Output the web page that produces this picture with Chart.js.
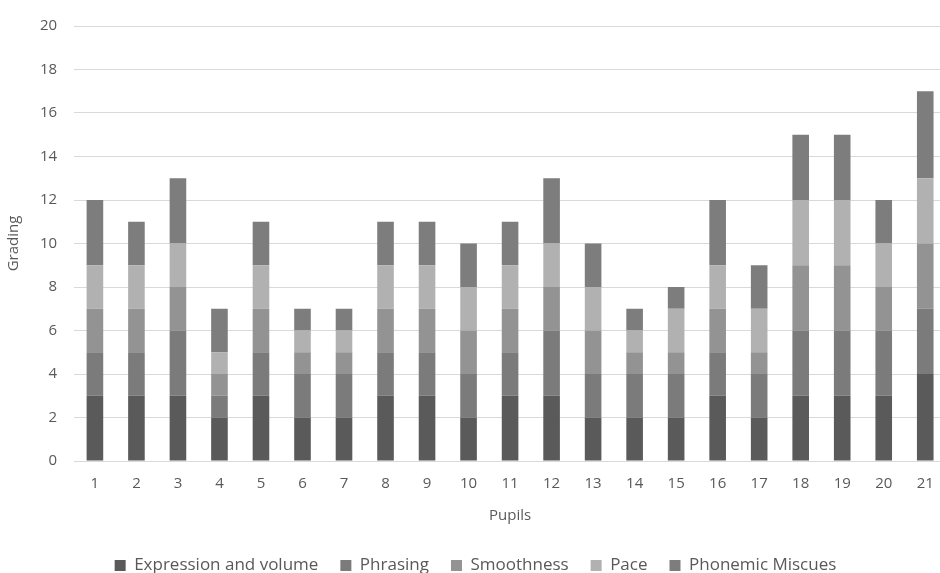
<!DOCTYPE html>
<html lang="en">
<head>
  <meta charset="UTF-8" />
  <title>Grading by pupil</title>
  <script src="https://cdn.jsdelivr.net/npm/chart.js"></script>
  <style>
    body { margin: 0; background: #fff; overflow: hidden; }
    /* plot runs a few px past the right edge, like the original */
    .wrap { width: 948px; height: 573px; }
  </style>
</head>
<body>
  <div class="wrap"><canvas id="gradeChart"></canvas></div>

  <script>
    const pupils = ['1','2','3','4','5','6','7','8','9','10','11','12','13','14','15','16','17','18','19','20','21'];
    const expression = [3,3,3,2,3,2,2,3,3,2,3,3,2,2,2,3,2,3,3,3,4];
    const phrasing   = [2,2,3,1,2,2,2,2,2,2,2,3,2,2,2,2,2,3,3,3,3];
    const smoothness = [2,2,2,1,2,1,1,2,2,2,2,2,2,1,1,2,1,3,3,2,3];
    const pace       = [2,2,2,1,2,1,1,2,2,2,2,2,2,1,2,2,2,3,3,2,3];
    const miscues    = [3,2,3,2,2,1,1,2,2,2,2,3,2,1,1,3,2,3,3,2,4];

    const txt = '#595959';
    const font = { family: "'Open Sans', sans-serif", size: 15 };
    const legendFont = { family: "'Open Sans', sans-serif", size: 17 };

    function ds(label, data, color) {
      return { label: label, data: data, backgroundColor: color, barPercentage: 0.4, categoryPercentage: 1 };
    }

    new Chart(document.getElementById('gradeChart'), {
      type: 'bar',
      data: {
        labels: pupils,
        datasets: [
          ds('Expression and volume', expression, '#5a5a5a'),
          ds('Phrasing', phrasing, '#7b7b7b'),
          ds('Smoothness', smoothness, '#939393'),
          ds('Pace', pace, '#b1b1b1'),
          ds('Phonemic Miscues', miscues, '#7d7d7d')
        ]
      },
      options: {
        responsive: true,
        maintainAspectRatio: false,
        animation: false,
        layout: { padding: { left: 5, right: 2, top: 15, bottom: -11 } },
        plugins: {
          legend: {
            position: 'bottom',
            labels: { color: txt, font: legendFont, boxWidth: 11, boxHeight: 11, padding: 22 }
          },
          tooltip: { enabled: false }
        },
        scales: {
          x: {
            stacked: true,
            ticks: { color: txt, font: font, padding: 6 },
            grid: { display: false },
            border: { color: '#d9d9d9' },
            title: { display: true, text: 'Pupils', color: txt, font: font, padding: { top: 8, bottom: 10 } }
          },
          y: {
            stacked: true,
            min: 0,
            max: 20,
            ticks: { stepSize: 2, color: txt, font: font, padding: 17 },
            grid: { color: '#d9d9d9', drawTicks: false },
            border: { display: false },
            title: { display: true, text: 'Grading', color: txt, font: font, padding: { top: 0, bottom: 0 } }
          }
        }
      }
    });
  </script>
</body>
</html>
